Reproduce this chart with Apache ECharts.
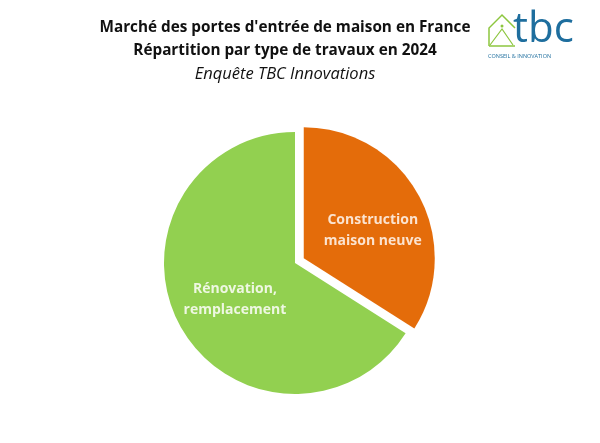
<!DOCTYPE html>
<html><head><meta charset="utf-8">
<script src="https://cdn.jsdelivr.net/npm/echarts@6/dist/echarts.min.js"></script>
<style>html,body{margin:0;padding:0;background:#fff}#c{width:600px;height:443px}</style>
</head><body><div id="c"></div>
<script>
const categories = ['Construction\nmaison neuve', 'Rénovation,\nremplacement'];
const values = [34, 66];
const colors = ['#E46C0A', '#92D050'];
const labelColors = ['#FBE3D0', '#EEF7E2'];
const titleLines = ["Marché des portes d'entrée de maison en France", "Répartition par type de travaux en 2024"];
const subtitle = 'Enquête TBC Innovations';

const chart = echarts.init(document.getElementById('c'), null, {renderer: 'canvas'});
chart.setOption({
  backgroundColor: '#fff',
  animation: false,
  title: {
    text: titleLines.join('\n'),
    subtext: subtitle,
    left: 280, top: 11, textAlign: 'center',
    itemGap: 1,
    textStyle: {fontFamily: 'Open Sans', fontWeight: 'bold', fontSize: 15.3, color: '#111', lineHeight: 23},
    subtextStyle: {fontFamily: 'Open Sans', fontStyle: 'italic', fontSize: 16.5, color: '#111', lineHeight: 23}
  },
  graphic: [
    {type: 'polyline', shape: {points: [[489,46],[489,28],[502,15],[515,28]]}, style: {stroke: '#8DC63F', lineWidth: 1.5, fill: null}},
    {type: 'polyline', shape: {points: [[489,46],[515,46]]}, style: {stroke: '#8DC63F', lineWidth: 1.5}},
    {type: 'polyline', shape: {points: [[490,45],[502,29],[513,45]]}, style: {stroke: '#8DC63F', lineWidth: 1.2, fill: null}},
    {type: 'circle', shape: {cx: 502, cy: 26, r: 1.5}, style: {fill: '#8DC63F'}},
    {type: 'text', left: 513, top: 9, style: {text: 'tbc', font: '42px "Open Sans"', fill: '#1E6E9E'}},
    {type: 'text', left: 488, top: 53, style: {text: 'CONSEIL & INNOVATION', font: '5.5px "Open Sans"', fill: '#1E6E9E'}}
  ],
  series: [{
    type: 'pie',
    center: [295, 263],
    radius: 131,
    startAngle: 90,
    clockwise: true,
    selectedMode: 'single',
    selectedOffset: 10,
    label: {
      position: 'inner', fontFamily: 'Open Sans', fontWeight: 'bold', fontSize: 14, lineHeight: 21,
      formatter: p => (p.dataIndex === 0 ? '{g0|}\n' : '{g1|}\n') + p.name,
      rich: {g0: {lineHeight: 10, fontSize: 1}, g1: {lineHeight: 7, fontSize: 1}}
    },
    labelLine: {show: false},
    emphasis: {disabled: true},
    data: categories.map((n, i) => ({
      name: n, value: values[i], selected: i === 0,
      itemStyle: {color: colors[i]},
      label: {color: labelColors[i], padding: i === 0 ? [0, 0, 0, 18] : [0, 0, 0, 0]}
    }))
  }]
});
</script></body></html>
